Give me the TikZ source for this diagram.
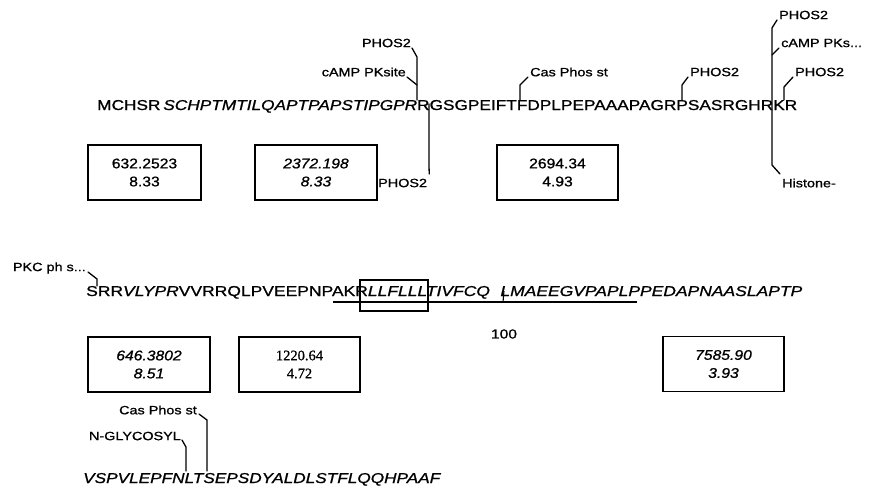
\documentclass[tikz,border=0pt]{standalone}
\usepackage{fontspec}
\setmainfont[FakeBold=0.9]{Liberation Sans}
\newfontfamily\numserif[FakeBold=0.9]{Liberation Serif}
\newcommand{\wlab}[1]{\scalebox{1.2}[1]{#1}}
\newcommand{\wnum}[1]{\scalebox{1.12}[1]{#1}}
\begin{document}
\begin{tikzpicture}[x=1pt,y=-1pt,
  lab/.style={inner sep=0pt, font=\fontsize{12}{12}\selectfont},
  lead/.style={line width=1.3pt, line join=round, line cap=round},
  valbox/.style={draw, line width=1.2pt, inner sep=0pt, minimum height=55pt, align=center, font=\fontsize{14}{18}\selectfont},
  seq/.style={inner sep=0pt, anchor=base west},
  hlbox/.style={draw, line width=1.1pt, inner sep=0pt}]
\useasboundingbox (0,0) rectangle (870,491);

% ---------------- row 1 ----------------
\node[seq] (seqA) at (97,110) {\resizebox{700pt}{10pt}{\fontsize{14}{14}\selectfont MCHSR\,\textit{SCHPTMTILQAPTPAPSTIPGPR}RGSGPEIFTFDPLPEPAAAPAGRPSASRGHRKR}};

\node[lab, anchor=east] (phosA) at (411,43) {\wlab{PHOS2}};
\coordinate (cA1) at (417,57);
\coordinate (sA1) at (417,100);
\draw[lead] ([shift={(1,5)}]phosA.east) -- (cA1) -- (sA1);

\node[lab, anchor=east] (campA) at (406,72) {\wlab{cAMP PKsite}};
\coordinate (cA2) at (417,85);
\draw[lead] ([shift={(1,5)}]campA.east) -- (cA2);

\node[lab, anchor=west] (phosB) at (378,183) {\wlab{PHOS2}};
\coordinate (sA2) at (429,104);
\coordinate (cB) at (429,165);
\draw[lead] (sA2) -- (cB) -- ([shift={(2,-9)}]phosB.east);

\node[lab, anchor=west] (casA) at (530,72) {\wlab{Cas Phos st}};
\coordinate (cC) at (520,85);
\coordinate (sC) at (520,100);
\draw[lead] ([shift={(-2,5)}]casA.west) -- (cC) -- (sC);

\node[lab, anchor=west] (phosC) at (690,72) {\wlab{PHOS2}};
\coordinate (cD) at (682,85);
\coordinate (sD) at (682,100);
\draw[lead] ([shift={(-2,5)}]phosC.west) -- (cD) -- (sD);

\node[lab, anchor=west] (phosD) at (779,15) {\wlab{PHOS2}};
\node[lab, anchor=west] (campB) at (781,43) {\wlab{cAMP PKs...}};
\node[lab, anchor=west] (hist) at (782,183) {\wlab{Histone-}};
\coordinate (cE1) at (772,28);
\coordinate (cE2) at (772,165);
\coordinate (cF) at (772,55);
\draw[lead] ([shift={(-2,5)}]phosD.west) -- (cE1) -- (cE2) -- ([shift={(-2,-9)}]hist.west);
\draw[lead] ([shift={(-2,5)}]campB.west) -- (cF);

\node[lab, anchor=west] (phosE) at (795,72) {\wlab{PHOS2}};
\coordinate (cG) at (784,87);
\coordinate (sG) at (784,100);
\draw[lead] ([shift={(-2,5)}]phosE.west) -- (cG) -- (sG);

\node[valbox, minimum width=113pt] (b1) at (144.5,172.5) {\wnum{632.2523}\\\wnum{8.33}};
\node[valbox, minimum width=122pt, font=\fontsize{14}{18}\selectfont\itshape] (b2) at (316,172.5) {\wnum{2372.198}\\\wnum{8.33}};
\node[valbox, minimum width=121pt] (b3) at (557.5,172.5) {\wnum{2694.34}\\\wnum{4.93}};

% ---------------- row 2 ----------------
\node[seq] (seqB) at (86,296) {\resizebox{716pt}{10pt}{\fontsize{14}{14}\selectfont SRR\textit{VLYPR}VVRRQLPVEEPNPAKR\textit{LLFLLLTIVFCQ\hspace{0.6em}LMAEEGVPAPLPPEDAPNAASLAPTP}}};

\node[lab, anchor=east] (pkc) at (86,268) {\wlab{PKC ph s...}};
\coordinate (cP) at (97,279);
\coordinate (sP) at (97,286);
\draw[lead] ([shift={(2,4)}]pkc.east) -- (cP) -- (sP);

\coordinate (u1) at (333,302);
\coordinate (u2) at (637,302);
\draw[line width=1.1pt] (u1) -- (u2);
\coordinate (t1) at (504,291);
\coordinate (t2) at (503,302);
\draw[line width=1.1pt] (t1) -- (t2);
\node[hlbox, minimum width=68pt, minimum height=31pt] (hl) at (394,295.5) {};
\node[lab, font=\fontsize{13}{13}\selectfont] (hundred) at (504,334) {\wlab{100}};

\node[valbox, minimum width=122pt, font=\fontsize{14}{18}\selectfont\itshape] (b4) at (149,364.5) {\wnum{646.3802}\\\wnum{8.51}};
\node[valbox, minimum width=121pt, font=\fontsize{14.5}{18}\selectfont\numserif] (b5) at (299.5,364.5) {1220.64\\4.72};
\node[valbox, minimum width=121pt, font=\fontsize{14}{18}\selectfont\itshape] (b6) at (723.5,364) {\wnum{7585.90}\\\wnum{3.93}};

% ---------------- row 3 ----------------
\node[seq] (seqC) at (83,483) {\resizebox{357pt}{10pt}{\fontsize{14}{14}\selectfont\itshape VSPVLEPFNLTSEPSDYALDLSTFLQQHPAAF}};

\node[lab, anchor=east] (cas2) at (197,410) {\wlab{Cas Phos st}};
\coordinate (cQ) at (207,420);
\coordinate (sQ) at (207,471);
\draw[lead] ([shift={(2,4)}]cas2.east) -- (cQ) -- (sQ);

\node[lab, anchor=east] (ngly) at (181,436) {\wlab{N-GLYCOSYL}};
\coordinate (cR) at (186,447);
\coordinate (sR) at (186,471);
\draw[lead] ([shift={(1,4)}]ngly.east) -- (cR) -- (sR);
\end{tikzpicture}
\end{document}
